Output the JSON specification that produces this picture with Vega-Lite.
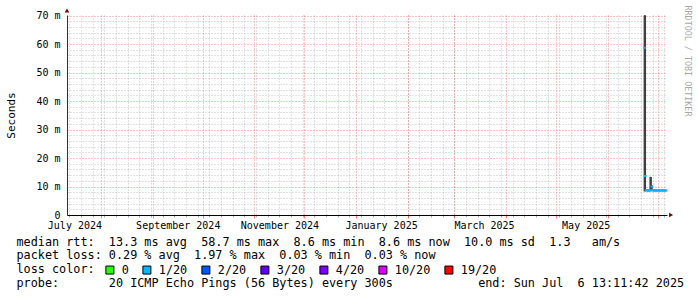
{
  "$schema": "https://vega.github.io/schema/vega-lite/v6.json",
  "width": 600,
  "height": 200,
  "autosize": {"type": "none"},
  "padding": {"left": 67, "top": 15, "right": 30, "bottom": 82},
  "background": "#ffffff",
  "config": {
    "view": {"stroke": null},
    "font": "DejaVu Sans Mono",
    "axis": {"labelFont": "DejaVu Sans Mono", "titleFont": "DejaVu Sans Mono", "labelColor": "#000000", "titleColor": "#000000", "titleFontWeight": "normal"}
  },
  "data": {
    "values": [
      {"t": "2025-06-23T00:00:00Z", "med": 0.0587, "lo": 0.0083, "hi": 0.0701, "loss": "1/20"},
      {"t": "2025-06-23T12:00:00Z", "med": 0.0137, "lo": 0.0083, "hi": 0.0701, "loss": "1/20"},
      {"t": "2025-06-24T00:00:00Z", "med": 0.0087, "lo": 0.0084, "hi": 0.0089, "loss": "1/20"},
      {"t": "2025-06-24T12:00:00Z", "med": 0.0086, "lo": 0.0084, "hi": 0.0089, "loss": "1/20"},
      {"t": "2025-06-25T00:00:00Z", "med": 0.0086, "lo": 0.0084, "hi": 0.0089, "loss": "1/20"},
      {"t": "2025-06-25T12:00:00Z", "med": 0.0086, "lo": 0.0084, "hi": 0.0088, "loss": "1/20"},
      {"t": "2025-06-26T00:00:00Z", "med": 0.0086, "lo": 0.0084, "hi": 0.0089, "loss": "1/20"},
      {"t": "2025-06-26T12:00:00Z", "med": 0.0086, "lo": 0.0084, "hi": 0.0134, "loss": "1/20"},
      {"t": "2025-06-27T00:00:00Z", "med": 0.0087, "lo": 0.0084, "hi": 0.0133, "loss": "1/20"},
      {"t": "2025-06-27T12:00:00Z", "med": 0.0100, "lo": 0.0085, "hi": 0.0104, "loss": "1/20"},
      {"t": "2025-06-28T00:00:00Z", "med": 0.0087, "lo": 0.0084, "hi": 0.0090, "loss": "1/20"},
      {"t": "2025-06-28T12:00:00Z", "med": 0.0086, "lo": 0.0084, "hi": 0.0089, "loss": "1/20"},
      {"t": "2025-06-29T00:00:00Z", "med": 0.0086, "lo": 0.0084, "hi": 0.0089, "loss": "1/20"},
      {"t": "2025-06-29T12:00:00Z", "med": 0.0086, "lo": 0.0084, "hi": 0.0088, "loss": "1/20"},
      {"t": "2025-06-30T00:00:00Z", "med": 0.0086, "lo": 0.0084, "hi": 0.0089, "loss": "1/20"},
      {"t": "2025-06-30T12:00:00Z", "med": 0.0086, "lo": 0.0084, "hi": 0.0089, "loss": "1/20"},
      {"t": "2025-07-01T00:00:00Z", "med": 0.0086, "lo": 0.0084, "hi": 0.0088, "loss": "1/20"},
      {"t": "2025-07-01T12:00:00Z", "med": 0.0086, "lo": 0.0084, "hi": 0.0089, "loss": "1/20"},
      {"t": "2025-07-02T00:00:00Z", "med": 0.0086, "lo": 0.0084, "hi": 0.0089, "loss": "1/20"},
      {"t": "2025-07-02T12:00:00Z", "med": 0.0086, "lo": 0.0084, "hi": 0.0088, "loss": "1/20"},
      {"t": "2025-07-03T00:00:00Z", "med": 0.0086, "lo": 0.0084, "hi": 0.0089, "loss": "1/20"},
      {"t": "2025-07-03T12:00:00Z", "med": 0.0086, "lo": 0.0084, "hi": 0.0089, "loss": "1/20"},
      {"t": "2025-07-04T00:00:00Z", "med": 0.0086, "lo": 0.0084, "hi": 0.0088, "loss": "1/20"},
      {"t": "2025-07-04T12:00:00Z", "med": 0.0086, "lo": 0.0084, "hi": 0.0089, "loss": "1/20"},
      {"t": "2025-07-05T00:00:00Z", "med": 0.0086, "lo": 0.0084, "hi": 0.0088, "loss": "1/20"},
      {"t": "2025-07-05T12:00:00Z", "med": 0.0086, "lo": 0.0084, "hi": 0.0088, "loss": "1/20"},
      {"t": "2025-07-06T00:00:00Z", "med": 0.0086, "lo": 0.0084, "hi": 0.0088, "loss": "1/20"}
    ]
  },
  "layer": [
    {
      "mark": {"type": "rule", "color": "#404040", "strokeWidth": 1.6},
      "encoding": {
        "x": {
          "field": "t", "type": "temporal",
          "scale": {"type": "utc", "domain": [1720703502000, 1751807502000], "nice": false},
          "axis": {
            "orient": "bottom",
            "values": [1720828800000, 1721433600000, 1722038400000, 1722643200000, 1723248000000, 1723852800000, 1724457600000, 1725062400000, 1725667200000, 1726272000000, 1726876800000, 1727481600000, 1728086400000, 1728691200000, 1729296000000, 1729900800000, 1730505600000, 1731110400000, 1731715200000, 1732320000000, 1732924800000, 1733529600000, 1734134400000, 1734739200000, 1735344000000, 1735948800000, 1736553600000, 1737158400000, 1737763200000, 1738368000000, 1738972800000, 1739577600000, 1740182400000, 1740787200000, 1741392000000, 1741996800000, 1742601600000, 1743206400000, 1743811200000, 1744416000000, 1745020800000, 1745625600000, 1746230400000, 1746835200000, 1747440000000, 1748044800000, 1748649600000, 1749254400000, 1749859200000, 1750464000000, 1751068800000, 1751673600000],
            "grid": true, "gridColor": "#8c8c8c", "gridOpacity": 0.5, "gridDash": [1, 2], "gridWidth": 1,
            "labels": false, "domain": false, "ticks": true, "tickSize": 2, "tickColor": "#8c8c8c", "tickOpacity": 0.7,
            "title": null
          }
        },
        "y": {
          "field": "lo", "type": "quantitative",
          "scale": {"domain": [0, 0.0702], "nice": false, "zero": false},
          "axis": {
            "orient": "left",
            "values": [0.002, 0.004, 0.006, 0.008, 0.012, 0.014, 0.016, 0.018, 0.022, 0.024, 0.026, 0.028, 0.032, 0.034, 0.036, 0.038, 0.042, 0.044, 0.046, 0.048, 0.052, 0.054, 0.056, 0.058, 0.062, 0.064, 0.066, 0.068],
            "grid": true, "gridColor": "#8c8c8c", "gridOpacity": 0.5, "gridDash": [1, 2], "gridWidth": 1,
            "labels": false, "domain": false, "ticks": false, "title": null
          }
        },
        "y2": {"field": "hi"}
      }
    },
    {
      "mark": {"type": "tick", "orient": "horizontal", "thickness": 2, "size": 2.6, "opacity": 1},
      "encoding": {
        "x": {
          "field": "t", "type": "temporal",
          "scale": {"type": "utc", "domain": [1720703502000, 1751807502000], "nice": false},
          "axis": {
            "orient": "bottom",
            "tickCount": {"interval": "month", "step": 1},
            "grid": true, "gridColor": "#ff0000", "gridOpacity": 0.45, "gridDash": [1, 2], "gridWidth": 1,
            "labels": false, "domain": false, "ticks": true, "tickSize": 3, "tickColor": "#ff0000", "tickOpacity": 0.5,
            "title": null
          }
        },
        "y": {
          "field": "med", "type": "quantitative",
          "scale": {"domain": [0, 0.0702], "nice": false, "zero": false},
          "axis": {
            "orient": "left",
            "values": [0, 0.01, 0.02, 0.03, 0.04, 0.05, 0.06, 0.07],
            "grid": true, "gridColor": "#ff0000", "gridOpacity": 0.45, "gridDash": [1, 2], "gridWidth": 1,
            "ticks": false, "domain": true, "domainColor": "#333333", "domainWidth": 1,
            "labelExpr": "datum.value == 0 ? '0' : format(datum.value * 1000, '.0f') + ' m'",
            "labelFontSize": 10, "labelPadding": 7, "labelBaseline": "middle",
            "title": "Seconds", "titleFontSize": 11, "titleX": -56, "titleY": 100, "titleAngle": 270,
            "titleAlign": "center", "titleBaseline": "middle"
          }
        },
        "color": {
          "field": "loss", "type": "nominal",
          "scale": {
            "domain": ["0", "1/20", "2/20", "3/20", "4/20", "10/20", "19/20"],
            "range": ["#26ff00", "#00b8ff", "#0059ff", "#5e00ff", "#7e00ff", "#dd00ff", "#ff0000"]
          },
          "legend": {
            "orient": "none", "legendX": 37, "legendY": 249,
            "direction": "horizontal", "columns": 7, "title": null,
            "symbolType": "square", "symbolSize": 64, "symbolStrokeColor": "#000000", "symbolStrokeWidth": 1, "symbolOpacity": 1,
            "labelFont": "DejaVu Sans Mono", "labelFontSize": 11.8, "labelColor": "#000000", "labelOffset": 6,
            "columnPadding": 11, "padding": 0,
            "encode": {"symbols": {"update": {"stroke": {"value": "#000000"}, "strokeWidth": {"value": 1}, "opacity": {"value": 1}}}}
          }
        }
      }
    },
    {
      "data": {"values": [{}]},
      "mark": {"type": "point", "shape": "triangle-right", "filled": true, "color": "#7f0000", "size": 22, "opacity": 1},
      "encoding": {
        "x": {
          "datum": 1752019200000, "type": "temporal",
          "scale": {"type": "utc", "domain": [1720703502000, 1751807502000], "nice": false},
          "axis": {
            "orient": "bottom",
            "values": [1721088000000, 1726444800000, 1731715200000, 1736985600000, 1742320800000, 1747591200000],
            "labelExpr": "utcFormat(datum.value, '%B %Y')",
            "labelFontSize": 10, "labelPadding": 5, "labelBaseline": "top", "labelAlign": "center",
            "labelFlush": false, "labelOverlap": false, "labelBound": false,
            "ticks": false, "grid": false, "domain": true, "domainColor": "#000000", "domainWidth": 1,
            "title": [
              "median rtt:\u00a0\u00a013.3 ms avg\u00a0\u00a058.7 ms max\u00a0\u00a08.6 ms min\u00a0\u00a08.6 ms now\u00a0\u00a010.0 ms sd\u00a0\u00a01.3\u00a0\u00a0\u00a0am/s",
              "packet loss: 0.29 % avg\u00a0\u00a01.97 % max\u00a0\u00a00.03 % min\u00a0\u00a00.03 % now",
              "loss color:",
              "probe:\u00a0\u00a0\u00a0\u00a0\u00a0\u00a0\u00a020 ICMP Echo Pings (56 Bytes) every 300s\u00a0\u00a0\u00a0\u00a0\u00a0\u00a0\u00a0\u00a0\u00a0\u00a0\u00a0\u00a0end: Sun Jul\u00a0\u00a06 13:11:42 2025"
            ],
            "titleX": -51, "titleY": 30, "titleAlign": "left", "titleBaseline": "alphabetic",
            "titleFontSize": 11.8, "titleLineHeight": 13.8, "titleFontWeight": "normal", "titleColor": "#000000"
          }
        },
        "y": {
          "datum": 0, "type": "quantitative",
          "scale": {"domain": [0, 0.0702], "nice": false, "zero": false},
          "axis": null
        }
      }
    },
    {
      "data": {"values": [{}]},
      "mark": {"type": "point", "shape": "triangle-up", "filled": true, "color": "#7f0000", "size": 22, "opacity": 1},
      "encoding": {
        "x": {
          "datum": 1720703502000, "type": "temporal",
          "scale": {"type": "utc", "domain": [1720703502000, 1751807502000], "nice": false},
          "axis": null
        },
        "y": {
          "datum": 0.0718, "type": "quantitative",
          "scale": {"domain": [0, 0.0702], "nice": false, "zero": false},
          "axis": {
            "orient": "right", "labels": false, "ticks": false, "domain": false, "grid": false,
            "title": "RRDTOOL / TOBI OETIKER", "titleX": 20, "titleY": -10, "titleAngle": 90,
            "titleAlign": "left", "titleBaseline": "middle", "titleFontSize": 8.4,
            "titleColor": "#a8a8a8", "titleFontWeight": "normal"
          }
        }
      }
    }
  ],
  "resolve": {"axis": {"x": "independent", "y": "independent"}}
}
